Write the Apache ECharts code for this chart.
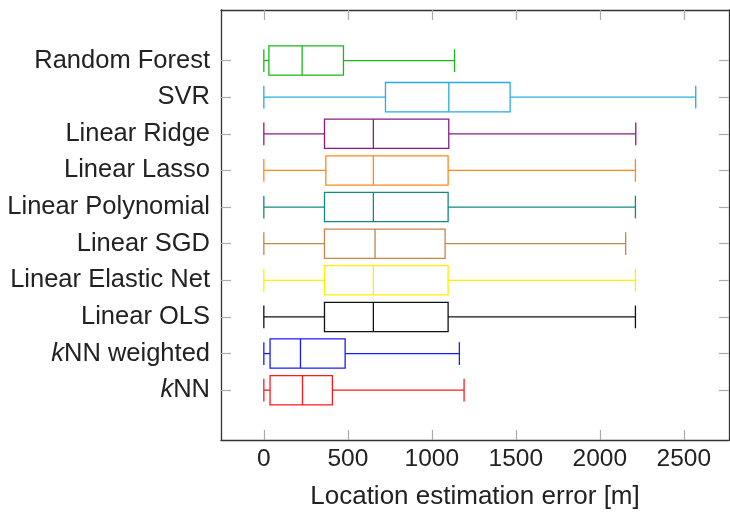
<!DOCTYPE html>
<html>
<head>
<meta charset="utf-8">
<script src="https://cdn.jsdelivr.net/npm/echarts@6/dist/echarts.min.js"></script>
<style>
  html, body { margin: 0; padding: 0; background: #fff; }
  #chart { width: 730px; height: 514px; }
</style>
</head>
<body>
<div id="chart"></div>
<script>
// Methods, listed bottom to top along the vertical axis
const categories = ['kNN', 'kNN weighted', 'Linear OLS', 'Linear Elastic Net', 'Linear SGD',
  'Linear Polynomial', 'Linear Lasso', 'Linear Ridge', 'SVR', 'Random Forest'];

// Box-plot statistics of the location estimation error in metres
const whiskerLow  = [0, 0, 0, 0, 0, 0, 0, 0, 0, 0];
const quartile1   = [37, 37, 361, 361, 361, 361, 369, 361, 724, 30];
const medians     = [230, 218, 652, 652, 662, 652, 652, 652, 1101, 228];
const quartile3   = [408, 484, 1097, 1097, 1079, 1097, 1097, 1101, 1466, 474];
const whiskerHigh = [1192, 1164, 2212, 2212, 2154, 2212, 2212, 2214, 2571, 1135];

// Tick values on the error axis
const xTicks = [0, 500, 1000, 1500, 2000, 2500];
const yTicks = categories.map((_, i) => i);

// One outline colour per method
const palette = ['#ff1a1a', '#1a1aff', '#111111', '#fff000', '#c4864a',
  '#128a84', '#ff8a1a', '#8a1a8a', '#29abe2', '#1ab81a'];

const FONT = 'Liberation Sans';

const boxData = categories.map((_, i) =>
  [i, whiskerLow[i], quartile1[i], medians[i], quartile3[i], whiskerHigh[i]]);

function renderBox(params, api) {
  const idx = api.value(0);
  const color = palette[params.dataIndex];
  const c = v => api.coord([v, idx]);
  const boxH = api.size([0, 0.8])[1];
  const capH = api.size([0, 0.62])[1];
  const pLo = c(api.value(1)), pQ1 = c(api.value(2)), pMed = c(api.value(3));
  const pQ3 = c(api.value(4)), pHi = c(api.value(5));
  const y = pLo[1];
  const st = { stroke: color, lineWidth: 1.3, fill: null };
  const line = (x1, y1, x2, y2) => ({ type: 'line', shape: { x1, y1, x2, y2 }, style: st });
  return {
    type: 'group',
    children: [
      line(pLo[0], y, pQ1[0], y),
      line(pQ3[0], y, pHi[0], y),
      line(pLo[0], y - capH / 2, pLo[0], y + capH / 2),
      line(pHi[0], y - capH / 2, pHi[0], y + capH / 2),
      { type: 'rect', shape: { x: pQ1[0], y: y - boxH / 2, width: pQ3[0] - pQ1[0], height: boxH },
        style: { stroke: color, lineWidth: 1.3, fill: 'rgba(255,255,255,0)' } },
      line(pMed[0], y - boxH / 2, pMed[0], y + boxH / 2)
    ]
  };
}

const axisLineStyle = { color: '#333', width: 1.3 };
const tickStyle = { color: '#aaa', width: 1.2 };

const chart = echarts.init(document.getElementById('chart'), null, { renderer: 'canvas' });
chart.setOption({
  animation: false,
  backgroundColor: '#fff',
  grid: { left: 221, right: 1, top: 10, bottom: 74, containLabel: false, outerBoundsMode: 'none' },
  xAxis: [
    {
      type: 'value', position: 'bottom', min: -255, max: 2769,
      name: 'Location estimation error [m]', nameLocation: 'middle', nameGap: 44,
      nameTextStyle: { fontFamily: FONT, fontSize: 26, color: '#222' },
      axisLine: { show: true, onZero: false, lineStyle: axisLineStyle },
      axisTick: { show: true, inside: true, length: 10, customValues: xTicks, lineStyle: tickStyle },
      axisLabel: {
        show: true, customValues: xTicks, margin: 7, fontFamily: FONT, fontSize: 24.5, color: '#222',
        formatter: v => String(v)
      },
      splitLine: { show: false }
    },
    {
      type: 'value', position: 'top', min: -255, max: 2769,
      axisLine: { show: true, onZero: false, lineStyle: axisLineStyle },
      axisTick: { show: true, inside: true, length: 10, customValues: xTicks, lineStyle: tickStyle },
      axisLabel: { show: false },
      splitLine: { show: false }
    }
  ],
  yAxis: [
    {
      type: 'value', position: 'left', min: -1.36, max: 10.38,
      axisLine: { show: true, onZero: false, lineStyle: axisLineStyle },
      axisTick: { show: true, inside: true, length: 10, customValues: yTicks, lineStyle: tickStyle },
      axisLabel: {
        show: true, customValues: yTicks, margin: 11,
        fontFamily: FONT, fontSize: 25.5, color: '#222',
        formatter: v => {
          const name = categories[Math.round(v)] || '';
          return name.startsWith('kNN') ? '{i|k}' + name.slice(1) : name;
        },
        rich: { i: { fontFamily: FONT, fontSize: 25.5, fontStyle: 'italic', color: '#222' } }
      },
      splitLine: { show: false }
    },
    {
      type: 'value', position: 'right', min: -1.36, max: 10.38,
      axisLine: { show: true, onZero: false, lineStyle: axisLineStyle },
      axisTick: { show: true, inside: true, length: 10, customValues: yTicks, lineStyle: tickStyle },
      axisLabel: { show: false },
      splitLine: { show: false }
    }
  ],
  series: [{
    type: 'custom',
    xAxisIndex: 0,
    yAxisIndex: 0,
    renderItem: renderBox,
    encode: { x: [1, 2, 3, 4, 5], y: 0 },
    data: boxData,
    clip: true
  }]
});
</script>
</body>
</html>
